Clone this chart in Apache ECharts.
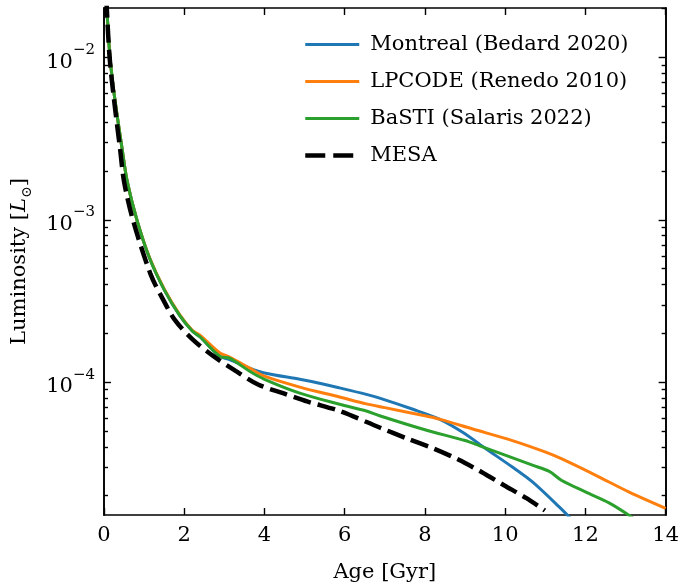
<!DOCTYPE html>
<html>
<head>
<meta charset="utf-8">
<script src="https://cdn.jsdelivr.net/npm/echarts@6/dist/echarts.min.js"></script>
<style>
  html, body { margin: 0; padding: 0; background: #fff; }
  #chart { width: 682px; height: 588px; }
</style>
</head>
<body>
<div id="chart"></div>
<script>
// White dwarf cooling tracks: luminosity (L_sun) against age (Gyr)
const montrealAge = [0.03, 0.07, 0.15, 0.27, 0.45, 0.58, 0.82, 1.13, 1.5, 1.89, 2.2, 2.39, 2.89, 3.13, 3.63, 4.0, 4.88, 5.37, 5.87, 6.54, 6.87, 7.7, 8.36, 8.94, 9.52, 10.18, 10.68, 11.34, 11.75];
const montrealLum = [3.24e-2, 2.02e-2, 1.0e-2, 5.55e-3, 2.75e-3, 1.72e-3, 1.0e-3, 5.86e-4, 3.72e-4, 2.57e-4, 2.07e-4, 1.905e-4, 1.442e-4, 1.38e-4, 1.222e-4, 1.14e-4, 1.042e-4, 9.86e-5, 9.23e-5, 8.41e-5, 7.98e-5, 6.81e-5, 5.92e-5, 4.91e-5, 3.89e-5, 3.0e-5, 2.43e-5, 1.71e-5, 1.35e-5];

const lpcodeAge = [0.03, 0.07, 0.15, 0.27, 0.45, 0.58, 0.82, 1.13, 1.5, 1.89, 2.2, 2.39, 2.89, 3.13, 3.63, 4.0, 4.88, 5.87, 6.54, 7.0, 8.0, 8.36, 9.19, 10.18, 11.01, 11.4, 12.26, 13.08, 14.0];
const lpcodeLum = [3.24e-2, 2.02e-2, 1.0e-2, 5.55e-3, 2.75e-3, 1.72e-3, 1.0e-3, 5.9e-4, 3.75e-4, 2.6e-4, 2.09e-4, 1.95e-4, 1.514e-4, 1.429e-4, 1.222e-4, 1.089e-4, 9.33e-5, 8.11e-5, 7.35e-5, 6.97e-5, 6.21e-5, 5.92e-5, 5.15e-5, 4.37e-5, 3.71e-5, 3.38e-5, 2.67e-5, 2.11e-5, 1.67e-5];

const bastiAge = [0.03, 0.07, 0.15, 0.27, 0.45, 0.58, 0.82, 1.13, 1.5, 1.89, 2.2, 2.39, 2.89, 3.13, 3.63, 4.0, 4.88, 5.87, 6.54, 6.87, 8.0, 9.0, 9.35, 10.0, 10.68, 11.1, 11.4, 12.0, 12.6, 13.13, 13.3];
const bastiLum = [3.24e-2, 2.02e-2, 1.0e-2, 5.55e-3, 2.75e-3, 1.72e-3, 1.0e-3, 5.86e-4, 3.72e-4, 2.57e-4, 2.07e-4, 1.905e-4, 1.442e-4, 1.406e-4, 1.167e-4, 1.042e-4, 8.57e-5, 7.31e-5, 6.65e-5, 6.21e-5, 5.09e-5, 4.37e-5, 4.07e-5, 3.55e-5, 3.08e-5, 2.82e-5, 2.49e-5, 2.11e-5, 1.80e-5, 1.49e-5, 1.38e-5];

const mesaAge = [0.03, 0.07, 0.14, 0.25, 0.40, 0.50, 0.72, 1.16, 1.45, 1.77, 2.20, 2.72, 3.28, 3.84, 4.48, 5.08, 5.87, 6.87, 7.57, 8.23, 8.83, 9.41, 9.97, 10.53, 10.99];
const mesaLum = [3.24e-2, 2.0e-2, 1.0e-2, 5.5e-3, 2.75e-3, 1.72e-3, 1.0e-3, 4.63e-4, 3.31e-4, 2.41e-4, 1.845e-4, 1.452e-4, 1.175e-4, 9.68e-5, 8.53e-5, 7.59e-5, 6.65e-5, 5.26e-5, 4.48e-5, 3.89e-5, 3.34e-5, 2.80e-5, 2.32e-5, 1.93e-5, 1.62e-5];

const seriesNames = ['Montreal (Bedard 2020)', 'LPCODE (Renedo 2010)', 'BaSTI (Salaris 2022)', 'MESA'];
const seriesColors = ['#1f77b4', '#ff7f0e', '#2ca02c', '#000000'];

// Axis ranges and tick marks
const xMin = 0, xMax = 14, xStep = 2;
const yMin = 1.52e-5, yMax = 2.02e-2;
const yMajorTicks = [1e-4, 1e-3, 1e-2];
const yMajorExponents = ['\u22124', '\u22123', '\u22122'];
const yMinorTicks = [
  2e-5, 3e-5, 4e-5, 5e-5, 6e-5, 7e-5, 8e-5, 9e-5,
  2e-4, 3e-4, 4e-4, 5e-4, 6e-4, 7e-4, 8e-4, 9e-4,
  2e-3, 3e-3, 4e-3, 5e-3, 6e-3, 7e-3, 8e-3, 9e-3,
  2e-2
];

const FONT = 'DejaVu Serif';
const INK = '#000';
const MESA_DASH = [18, 7];

const pairs = (xs, ys) => xs.map((x, i) => [x, ys[i]]);

const chart = echarts.init(document.getElementById('chart'), null, { renderer: 'canvas' });

function xAxisDef(pos, showLabels) {
  return {
    type: 'value', position: pos, min: xMin, max: xMax, interval: xStep,
    axisLine: { show: true, onZero: false, lineStyle: { color: INK, width: 1.6 } },
    axisTick: { show: true, inside: true, length: 7, lineStyle: { color: INK, width: 1.4 } },
    axisLabel: { show: showLabels, margin: 10, fontFamily: FONT, fontSize: 21, color: INK },
    splitLine: { show: false },
    name: showLabels ? 'Age [Gyr]' : '',
    nameLocation: 'middle', nameGap: 47,
    nameTextStyle: { fontFamily: FONT, fontSize: 21, color: INK }
  };
}

function yAxisDef(pos, major, withLabels) {
  const ax = {
    type: 'log', logBase: 10, position: pos, min: yMin, max: yMax,
    axisLine: { show: true, onZero: false, lineStyle: { color: INK, width: 1.6 } },
    axisTick: {
      show: true, inside: true, length: major ? 7 : 4,
      customValues: major ? yMajorTicks : yMinorTicks,
      lineStyle: { color: INK, width: 1.4 }
    },
    axisLabel: { show: false },
    splitLine: { show: false },
    minorTick: { show: false }
  };
  if (withLabels) {
    ax.axisLabel = {
      show: true, margin: 9, customValues: yMajorTicks,
      formatter: function (v) {
        const k = yMajorTicks.findIndex(t => Math.abs(t - v) / t < 1e-6);
        return '{b|10}{s|' + (k >= 0 ? yMajorExponents[k] : '') + '}';
      },
      rich: {
        b: { fontFamily: FONT, fontSize: 21, color: INK, lineHeight: 30, verticalAlign: 'bottom' },
        s: { fontFamily: FONT, fontSize: 15, color: INK, lineHeight: 30, verticalAlign: 'top' }
      }
    };
    ax.name = '{n|Luminosity [}{i|L}{o|\u2299}{n|]}';
    ax.nameLocation = 'middle';
    ax.nameGap = 70;
    ax.nameTextStyle = {
      rich: {
        n: { fontFamily: FONT, fontSize: 21, color: INK, lineHeight: 28, verticalAlign: 'middle' },
        i: { fontFamily: FONT, fontSize: 21, fontStyle: 'italic', color: INK, lineHeight: 28, verticalAlign: 'middle' },
        o: { fontFamily: FONT, fontSize: 14, color: INK, lineHeight: 28, verticalAlign: 'bottom' }
      }
    };
  }
  return ax;
}

// Legend entries: plain line samples (no marker), dashed for MESA
const legendData = seriesNames.map((name, i) => ({
  name: name,
  itemStyle: { opacity: 0, color: 'transparent', borderWidth: 0 },
  lineStyle: i === 3
    ? { color: seriesColors[i], width: 4.5, type: [20, 8], opacity: 1 }
    : { color: seriesColors[i], width: 3, type: 'solid', opacity: 1 }
}));

function lineSeries(i, xs, ys, extraStyle) {
  return {
    name: seriesNames[i], type: 'line', data: pairs(xs, ys),
    symbol: 'none', smooth: 0.3, clip: true,
    lineStyle: Object.assign({ color: seriesColors[i], width: 3 }, extraStyle || {}),
    itemStyle: { color: seriesColors[i] }
  };
}

const option = {
  animation: false,
  backgroundColor: '#fff',
  grid: { left: 104, top: 8, width: 562, height: 512 },
  legend: {
    data: legendData,
    orient: 'vertical', left: 298, top: 29,
    itemWidth: 54, itemHeight: 24, itemGap: 16,
    textStyle: { fontFamily: FONT, fontSize: 21, color: INK, padding: [0, 0, 0, 6] }
  },
  xAxis: [xAxisDef('bottom', true), xAxisDef('top', false)],
  yAxis: [
    yAxisDef('left', true, true),
    yAxisDef('left', false, false),
    yAxisDef('right', true, false),
    yAxisDef('right', false, false)
  ],
  series: [
    lineSeries(0, montrealAge, montrealLum),
    lineSeries(1, lpcodeAge, lpcodeLum),
    lineSeries(2, bastiAge, bastiLum),
    lineSeries(3, mesaAge, mesaLum, { width: 4.5, type: MESA_DASH })
  ]
};

chart.setOption(option);
</script>
</body>
</html>
